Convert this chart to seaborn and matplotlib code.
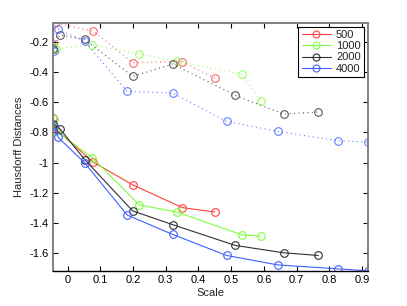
import matplotlib
matplotlib.use("Agg")
import matplotlib.pyplot as plt
import seaborn as sns
import pandas as pd
from matplotlib.lines import Line2D

# ---- data ----
labels = ["500", "1000", "2000", "4000"]
colors = ["#ff4040", "#80ff40", "#303030", "#4060ff"]

x_500 = [-0.044, -0.038, 0.079, 0.199, 0.351, 0.450]
upper_500 = [-0.21, -0.071, -0.127, -0.335, -0.329, -0.44]
lower_500 = [-0.705, -0.778, -0.998, -1.149, -1.300, -1.329]

x_1000 = [-0.043, -0.035, 0.076, 0.219, 0.333, 0.532, 0.590]
upper_1000 = [-0.235, -0.245, -0.218, -0.278, -0.327, -0.413, -0.591]
lower_1000 = [-0.710, -0.790, -0.969, -1.282, -1.329, -1.480, -1.491]

x_2000 = [-0.044, -0.024, 0.052, 0.199, 0.321, 0.512, 0.660, 0.766]
upper_2000 = [-0.245, -0.151, -0.182, -0.427, -0.345, -0.553, -0.678, -0.664]
lower_2000 = [-0.742, -0.775, -0.980, -1.322, -1.413, -1.551, -1.600, -1.618]

x_4000 = [-0.043, -0.029, 0.052, 0.182, 0.321, 0.486, 0.643, 0.826, 0.919]
upper_4000 = [-0.258, -0.113, -0.195, -0.527, -0.538, -0.727, -0.793, -0.855, -0.865]
lower_4000 = [-0.758, -0.833, -1.002, -1.349, -1.478, -1.618, -1.681, -1.707, -1.720]

xs = [x_500, x_1000, x_2000, x_4000]
uppers = [upper_500, upper_1000, upper_2000, upper_4000]
lowers = [lower_500, lower_1000, lower_2000, lower_4000]

xtick_vals = [0, 0.1, 0.2, 0.3, 0.4, 0.5, 0.6, 0.7, 0.8, 0.9]
xtick_labels = ["0", "0.1", "0.2", "0.3", "0.4", "0.5", "0.6", "0.7", "0.8", "0.9"]
ytick_vals = [-1.6, -1.4, -1.2, -1.0, -0.8, -0.6, -0.4, -0.2]
ytick_labels = ["-1.6", "-1.4", "-1.2", "-1", "-0.8", "-0.6", "-0.4", "-0.2"]

# ---- plot ----
sns.set_style("white")
plt.rcParams["font.family"] = ["Liberation Sans", "DejaVu Sans"]
plt.rcParams["axes.unicode_minus"] = False

fig = plt.figure(figsize=(4.07, 3.06), dpi=100)
ax = fig.add_axes([0.130, 0.114, 0.774, 0.811])

for x, up, lo, c in zip(xs, uppers, lowers, colors):
    df_up = pd.DataFrame({"x": x, "y": up})
    df_lo = pd.DataFrame({"x": x, "y": lo})
    sns.lineplot(data=df_up, x="x", y="y", ax=ax, sort=False, color=c,
                 dashes=False, linewidth=0.8, marker="o", markersize=5.5,
                 markerfacecolor="none", markeredgecolor=c, markeredgewidth=0.8,
                 estimator=None, alpha=0.8)
    ax.lines[-1].set_dashes([1, 3])
    sns.lineplot(data=df_lo, x="x", y="y", ax=ax, sort=False, color=c,
                 linestyle="-", linewidth=0.8, marker="o", markersize=5.5,
                 markerfacecolor="none", markeredgecolor=c, markeredgewidth=0.8,
                 estimator=None)

ax.set_xlim(-0.045, 0.918)
ax.set_ylim(-1.722, -0.072)
ax.set_xticks(xtick_vals)
ax.set_xticklabels(xtick_labels)
ax.set_yticks(ytick_vals)
ax.set_yticklabels(ytick_labels)
ax.tick_params(direction="in", length=3.5, width=0.8, labelsize=8,
               top=True, right=True, bottom=True, left=True,
               colors="#000000", pad=3)
ax.set_xlabel("Scale", fontsize=8, labelpad=2)
ax.set_ylabel("Hausdorff Distances", fontsize=8, labelpad=4)

for side in ["left", "right", "top"]:
    ax.spines[side].set_color("#808080")
    ax.spines[side].set_linewidth(1.4)
    ax.spines[side].set_visible(True)
ax.spines["bottom"].set_color("#000000")
ax.spines["bottom"].set_linewidth(1.0)
ax.spines["bottom"].set_visible(True)

handles = [Line2D([0], [0], color=c, linewidth=0.8, marker="o", markersize=5,
                  markerfacecolor="none", markeredgecolor=c, markeredgewidth=0.8)
           for c in colors]
leg = ax.legend(handles, labels, loc="upper right", fontsize=8, frameon=True,
                fancybox=False, edgecolor="#000000", framealpha=1,
                handlelength=2.6, borderaxespad=0.35, borderpad=0.3,
                labelspacing=0.1, handletextpad=0.5)
leg.get_frame().set_linewidth(0.8)

fig.savefig("out.png", dpi=100)
